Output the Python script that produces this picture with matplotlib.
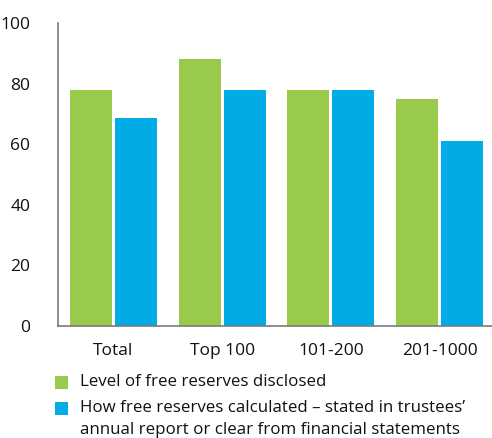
import numpy as np
import matplotlib
matplotlib.use("Agg")
import matplotlib.pyplot as plt
from matplotlib.patches import Rectangle

plt.rcParams['font.family'] = ['Open Sans', 'DejaVu Sans']

categories = ['Total', 'Top 100', '101-200', '201-1000']
disclosed = [78, 88, 78, 75]
calculated = [68.5, 78, 78, 61]
series_labels = ['Level of free reserves disclosed',
                 'How free reserves calculated \u2013 stated in trustees\u2019\nannual report or clear from financial statements']
colors = ['#99CA4A', '#00ABE6']

fig = plt.figure(figsize=(4.92, 4.38), dpi=100)
ax = fig.add_axes([58/492, 1 - 326/438, 1 - 58/492, 303/438])

x = np.arange(len(categories))
w = 0.386
off = 0.207
ax.bar(x - off, disclosed, w, color=colors[0], linewidth=0)
ax.bar(x + off, calculated, w, color=colors[1], linewidth=0)

ax.set_xlim(-0.511, 3.483)
ax.set_ylim(0, 100)
ax.set_yticks(range(0, 101, 20))
ax.set_xticks(x)
ax.set_xticklabels(categories)
ax.tick_params(axis='both', length=0, labelsize=12.5, colors='#111111')
ax.tick_params(axis='y', pad=20)
ax.tick_params(axis='x', pad=12)

for s in ['top', 'right']:
    ax.spines[s].set_visible(False)
for s in ['left', 'bottom']:
    ax.spines[s].set_color('#7a7a7a')
    ax.spines[s].set_linewidth(1.2)

# legend drawn by hand so the square sits on the first text line
rows = [(382, series_labels[0]), (408, series_labels[1])]
for (ypix, text), c in zip(rows, colors):
    fig.patches.append(Rectangle((55/492, 1 - (ypix + 6.5)/438), 13/492, 13/438,
                                 transform=fig.transFigure, color=c, linewidth=0))
    fig.text(80/492, 1 - (ypix - 7.5)/438, text, ha='left', va='top',
             fontsize=12.2, color='#111111', linespacing=1.5)

fig.savefig('out.png', dpi=100)
